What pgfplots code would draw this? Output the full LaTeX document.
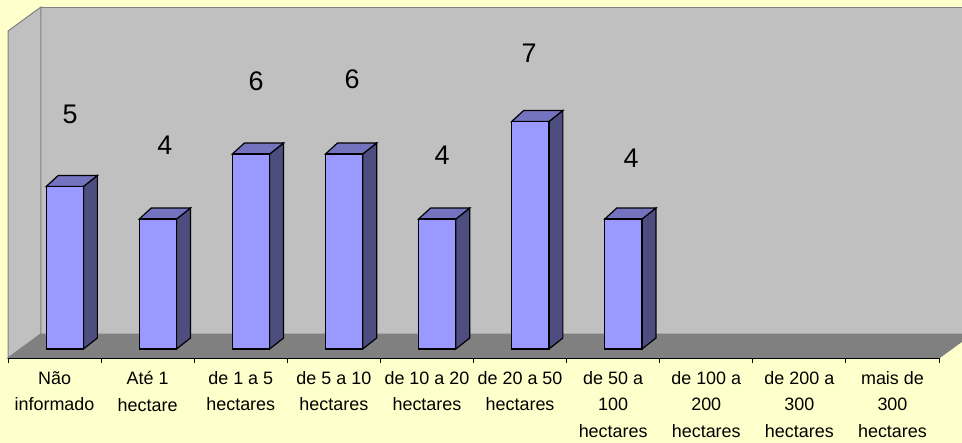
\documentclass[border=0pt]{standalone}
\usepackage{fontspec}
\setmainfont{Liberation Sans}
\usepackage{pgfplots}
\pgfplotsset{compat=1.18}
\usepackage{pgfplotstable}
\definecolor{bgyellow}{HTML}{FFFFCC}
\definecolor{wallgray}{HTML}{C0C0C0}
\definecolor{floorgray}{HTML}{808080}
\definecolor{edgegray}{HTML}{808080}
\definecolor{barfront}{HTML}{9999FF}
\definecolor{bartop}{HTML}{7373BF}
\definecolor{barside}{HTML}{4D4D80}

\pgfplotstableread{
x y
0 5
1 4
2 6
3 6
4 4
5 7
6 4
}\datatable

\begin{document}
\begin{tikzpicture}
\useasboundingbox (0,0) rectangle (962bp,-443bp);
\clip (0,0) rectangle (962bp,-443bp);
\fill[bgyellow] (0,0) rectangle (962bp,-443bp);
\begin{axis}[
  at={(8bp,-358bp)}, anchor=south west, scale only axis,
  width=931bp, height=351bp,
  xmin=0, xmax=10, ymin=-0.277, ymax=10.523,
  clip=false, axis on top,
  axis y line=none, axis x line*=bottom,
  x axis line style={black, line width=1bp},
  xtick={0.5,1.5,...,9.5},
  xticklabels={Não\\[1bp]informado, Até 1\\[1bp]hectare, de 1 a 5\\[1bp]hectares, de 5 a 10\\[1bp]hectares, de 10 a 20\\[1bp]hectares, de 20 a 50\\[1bp]hectares, de 50 a\\[1bp]100\\[1bp]hectares, de 100 a\\[1bp]200\\[1bp]hectares, de 200 a\\[1bp]300\\[1bp]hectares, mais de\\[1bp]300\\[1bp]hectares},
  minor xtick={0,1,...,10},
  major tick length=0pt, minor tick length=5bp,
  tick align=outside,
  tick style={black, line width=1bp},
  xticklabel style={anchor=north, align=center, font=\fontsize{18}{25.5}\selectfont, execute at begin node=\strut, yshift=-10bp},
]
% walls and floor
\fill[wallgray, draw=edgegray, line width=1bp] (axis cs:0.354,0.461) rectangle (axis cs:10.7,10.523);
\fill[wallgray, draw=edgegray, line width=1bp] (axis cs:0,-0.277) -- (axis cs:0.354,0.461) -- (axis cs:0.354,10.523) -- (axis cs:0,9.785) -- cycle;
\fill[floorgray, draw=edgegray, line width=1bp] (axis cs:0,-0.277) -- (axis cs:10,-0.277) -- (axis cs:10.354,0.461) -- (axis cs:0.354,0.461) -- cycle;
% side and top faces of the bars
\pgfplotsinvokeforeach{0,...,6}{
  \pgfplotstablegetelem{#1}{y}\of\datatable
  \pgfmathsetmacro\va{\pgfplotsretval}
  \pgfmathsetmacro\vb{\pgfplotsretval+0.338}
  \pgfmathsetmacro\xa{#1+0.41}
  \pgfmathsetmacro\xb{#1+0.81}
  \pgfmathsetmacro\xc{#1+0.81+0.150}
  \pgfmathsetmacro\xd{#1+0.41+0.129}
  \edef\temp{%
    \noexpand\addplot[fill=barside, draw=black, line width=1.2bp] coordinates {(\xb,0) (\xc,0.338) (\xc,\vb) (\xb,\va)} -- cycle;
    \noexpand\addplot[fill=bartop, draw=black, line width=1.2bp] coordinates {(\xa,\va) (\xd,\vb) (\xc,\vb) (\xb,\va)} -- cycle;
  }%
  \temp
}
% front faces
\addplot[ybar, bar width=0.4, bar shift=0pt, fill=barfront, draw=black, line width=1.2bp]
  table[x expr=\thisrow{x}+0.61, y=y] {\datatable};
% data labels
\begin{scope}[every node/.style={font=\fontsize{27}{32}\selectfont, inner sep=0pt}]
\node at (axis cs:0.666,7.215) {5};
\node at (axis cs:1.686,6.277) {4};
\node at (axis cs:2.664,8.246) {6};
\node at (axis cs:3.695,8.308) {6};
\node at (axis cs:4.662,5.969) {4};
\node at (axis cs:5.596,9.108) {7};
\node at (axis cs:6.692,5.877) {4};
\end{scope}
\end{axis}
\end{tikzpicture}
\end{document}
